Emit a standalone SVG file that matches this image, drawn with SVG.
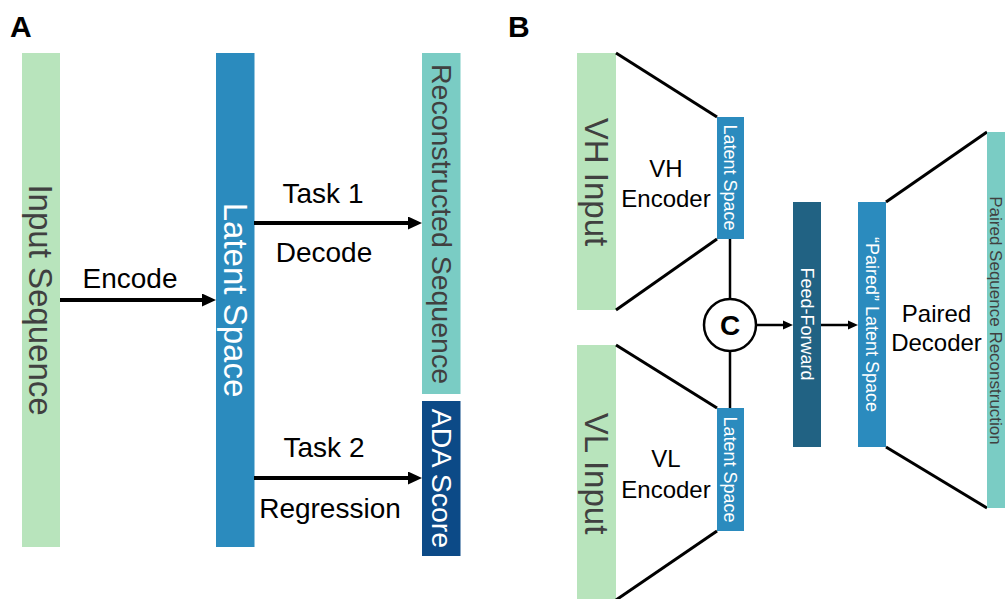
<svg xmlns="http://www.w3.org/2000/svg" width="1005" height="599" viewBox="0 0 1005 599">
  <style>
    text { font-family: "Liberation Sans", Arial, sans-serif; }
    .panel { font-size: 30px; font-weight: bold; fill: #000; }
    .lbl { font-size: 28px; fill: #000; text-anchor: middle; }
    .enc { font-size: 24px; fill: #000; text-anchor: middle; }
    .vt { text-anchor: middle; }
    .big { font-size: 33px; }
    .mid { font-size: 28.5px; }
    .small { font-size: 18px; }
    .dark { fill: #404040; }
    .light { fill: #ffffff; }
    .green { fill: #b8e4bc; }
    .teal { fill: #7accc4; }
    .blue { fill: #2b8bbe; }
    .navy { fill: #0c4a87; }
    .deep { fill: #216283; }
    .edge { stroke: #000; stroke-width: 3; fill: none; }
    .arrA { stroke: #000; stroke-width: 4; fill: none; marker-end: url(#headA); }
    .arrB { stroke: #000; stroke-width: 2.5; fill: none; marker-end: url(#headB); }
  </style>
  <defs>
    <marker id="headA" markerUnits="userSpaceOnUse" markerWidth="14" markerHeight="13" refX="0" refY="6.5" orient="auto">
      <path d="M0,0 L14,6.5 L0,13 Z" fill="#000"/>
    </marker>
    <marker id="headB" markerUnits="userSpaceOnUse" markerWidth="10" markerHeight="10" refX="0" refY="5" orient="auto">
      <path d="M0,0.5 L10,5 L0,9.5 Z" fill="#000"/>
    </marker>
  </defs>

  <rect width="1005" height="599" fill="#ffffff"/>

  <!-- Panel letters -->
  <text class="panel" x="10" y="37">A</text>
  <text class="panel" x="508" y="37">B</text>

  <!-- ===== Panel A ===== -->
  <g id="input-sequence">
    <rect class="green" x="22" y="53" width="38" height="494"/>
    <text class="vt big dark" transform="translate(28.5,300) rotate(90)">Input Sequence</text>
  </g>
  <g id="latent-space">
    <rect class="blue" x="216" y="53" width="38.5" height="494"/>
    <text class="vt big light" transform="translate(223.5,300) rotate(90)">Latent Space</text>
  </g>
  <g id="reconstructed-sequence">
    <rect class="teal" x="422" y="53" width="38.5" height="341"/>
    <text class="vt mid dark" transform="translate(432,224) rotate(90)">Reconstructed Sequence</text>
  </g>
  <g id="ada-score">
    <rect class="navy" x="422" y="401" width="38.5" height="155"/>
    <text class="vt mid light" transform="translate(432,478.5) rotate(90)">ADA Score</text>
  </g>

  <g id="connectors-a">
    <line class="arrA" x1="60" y1="300" x2="202" y2="300"/>
    <line class="arrA" x1="254" y1="223" x2="408" y2="223"/>
    <line class="arrA" x1="254" y1="478" x2="408" y2="478"/>
    <text class="lbl" x="130" y="288">Encode</text>
    <text class="lbl" x="323" y="203">Task 1</text>
    <text class="lbl" x="324" y="262">Decode</text>
    <text class="lbl" x="324" y="457">Task 2</text>
    <text class="lbl" x="330" y="518">Regression</text>
  </g>

  <!-- ===== Panel B ===== -->
  <g id="vh-input">
    <rect class="green" x="577" y="53" width="39" height="257"/>
    <text class="vt big dark" transform="translate(584.5,182) rotate(90)">VH Input</text>
  </g>
  <g id="vh-encoder">
    <line class="edge" x1="616" y1="53" x2="717" y2="117"/>
    <line class="edge" x1="616" y1="310" x2="717" y2="239"/>
    <text class="enc" x="666" y="177">VH</text>
    <text class="enc" x="666" y="207">Encoder</text>
  </g>
  <g id="vh-latent">
    <rect class="blue" x="717" y="117" width="27" height="122"/>
    <text class="vt small light" transform="translate(724,177.5) rotate(90)">Latent Space</text>
  </g>

  <g id="vl-input">
    <rect class="green" x="577" y="345" width="39" height="260"/>
    <text class="vt big dark" transform="translate(584.5,473.5) rotate(90)">VL Input</text>
  </g>
  <g id="vl-encoder">
    <line class="edge" x1="616" y1="345" x2="717" y2="408"/>
    <line class="edge" x1="616" y1="600" x2="717" y2="531"/>
    <text class="enc" x="666" y="467">VL</text>
    <text class="enc" x="666" y="498">Encoder</text>
  </g>
  <g id="vl-latent">
    <rect class="blue" x="717" y="408" width="27" height="123"/>
    <text class="vt small light" transform="translate(724,469.5) rotate(90)">Latent Space</text>
  </g>

  <g id="concat">
    <circle cx="730" cy="325" r="26" fill="#ffffff" stroke="#000" stroke-width="2.5"/>
    <text x="730" y="335" text-anchor="middle" font-size="28" font-weight="bold" fill="#000">C</text>
  </g>

  <g id="feed-forward">
    <rect class="deep" x="793" y="202" width="28" height="245"/>
    <text class="vt small light" transform="translate(800.5,324) rotate(90)">Feed-Forward</text>
  </g>
  <g id="paired-latent">
    <rect class="blue" x="858" y="202" width="28" height="245"/>
    <text class="vt small light" transform="translate(865.5,324.5) rotate(90)">“Paired” Latent Space</text>
  </g>
  <g id="paired-decoder">
    <line class="edge" x1="886" y1="202" x2="987" y2="132"/>
    <line class="edge" x1="886" y1="447" x2="987" y2="508"/>
    <text class="enc" x="936.5" y="322">Paired</text>
    <text class="enc" x="936.5" y="351">Decoder</text>
  </g>
  <g id="paired-reconstruction">
    <rect class="teal" x="987" y="132" width="30" height="376"/>
    <text class="vt dark" font-size="17" transform="translate(989.5,320.5) rotate(90)">Paired Sequence Reconstruction</text>
  </g>

  <g id="connectors-b">
    <line x1="730" y1="239" x2="730" y2="299" stroke="#000" stroke-width="2.5"/>
    <line x1="730" y1="351" x2="730" y2="408" stroke="#000" stroke-width="2.5"/>
    <line class="arrB" x1="756" y1="325" x2="783" y2="325"/>
    <line class="arrB" x1="821" y1="325" x2="848" y2="325"/>
  </g>
</svg>
